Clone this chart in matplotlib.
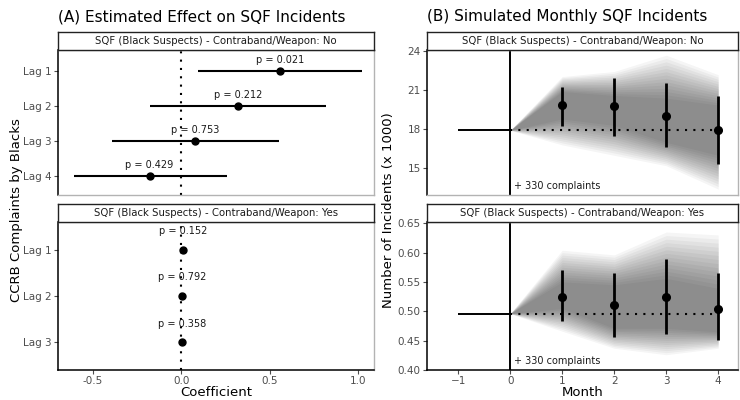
import matplotlib
matplotlib.use("Agg")
import matplotlib.pyplot as plt
import numpy as np

# ---------------- data ----------------
lags_no = ["Lag 1", "Lag 2", "Lag 3", "Lag 4"]
coef_no = [0.557, 0.32, 0.08, -0.18]
lo_no = [0.095, -0.18, -0.39, -0.61]
hi_no = [1.02, 0.82, 0.55, 0.26]
p_no = ["p = 0.021", "p = 0.212", "p = 0.753", "p = 0.429"]

lags_yes = ["Lag 1", "Lag 2", "Lag 3"]
coef_yes = [0.010, 0.002, 0.005]
lo_yes = [0.004, -0.004, -0.001]
hi_yes = [0.016, 0.008, 0.011]
p_yes = ["p = 0.152", "p = 0.792", "p = 0.358"]

months = [0, 1, 2, 3, 4]
sim_no_base = 17.93
sim_no_est = [19.86, 19.78, 19.0, 17.98]
sim_no_lo = [18.26, 17.46, 16.64, 15.34]
sim_no_hi = [21.29, 21.93, 21.54, 20.6]
# simulated-path cloud envelopes (months 0..4)
cloud_no_outer_lo = [17.93, 16.8, 16.0, 15.2, 13.4]
cloud_no_outer_hi = [17.93, 22.06, 22.45, 23.7, 22.2]
cloud_no_dense_lo = [17.93, 18.8, 18.3, 17.0, 16.0]
cloud_no_dense_hi = [17.93, 20.9, 20.6, 20.4, 19.86]

sim_yes_base = 0.496
sim_yes_est = [0.525, 0.510, 0.524, 0.5045]
sim_yes_lo = [0.483, 0.4566, 0.4605, 0.451]
sim_yes_hi = [0.571, 0.566, 0.589, 0.5645]
cloud_yes_outer_lo = [0.496, 0.466, 0.437, 0.426, 0.437]
cloud_yes_outer_hi = [0.496, 0.604, 0.596, 0.635, 0.630]
cloud_yes_dense_lo = [0.496, 0.505, 0.471, 0.471, 0.465]
cloud_yes_dense_hi = [0.496, 0.550, 0.545, 0.556, 0.539]

strip_no = "SQF (Black Suspects) - Contraband/Weapon: No"
strip_yes = "SQF (Black Suspects) - Contraband/Weapon: Yes"
annot = "+ 330 complaints"

# ---------------- figure ----------------
W, H = 740, 400
fig = plt.figure(figsize=(W / 100, H / 100), dpi=100)
plt.rcParams['font.family'] = ['DejaVu Sans']

def fr(x0, y0, x1, y1):
    return [x0 / W, 1 - y1 / H, (x1 - x0) / W, (y1 - y0) / H]

TICKC = "#4d4d4d"
BORDER = "#b3b3b3"

def style(ax, xlabels=True):
    for s in ["top", "right"]:
        ax.spines[s].set_color(BORDER)
        ax.spines[s].set_linewidth(1.0)
    ax.spines["left"].set_color("black")
    ax.spines["left"].set_linewidth(1.1)
    if xlabels:
        ax.spines["bottom"].set_color("black")
        ax.spines["bottom"].set_linewidth(1.1)
    else:
        ax.spines["bottom"].set_color(BORDER)
        ax.spines["bottom"].set_linewidth(1.0)
    ax.tick_params(axis="both", colors=TICKC, labelsize=7.5, length=3, width=0.8,
                   labelcolor=TICKC, pad=1.5)
    if not xlabels:
        ax.tick_params(axis="x", bottom=False, labelbottom=False)

def strip(rect, text):
    sa = fig.add_axes(rect)
    sa.set_xticks([]); sa.set_yticks([])
    for s in sa.spines.values():
        s.set_color("#222222"); s.set_linewidth(1.0)
    sa.text(0.5, 0.5, text, ha="center", va="center", fontsize=7.3, color="#1a1a1a",
            transform=sa.transAxes)

LX0, LX1 = 58, 374
RX0, RX1 = 427, 738
TY0, TY1 = 50, 195
BY0, BY1 = 222, 370

# ---- left top ----
ax = fig.add_axes(fr(LX0, TY0, LX1, TY1))
ypos = np.arange(1, len(lags_no) + 1)
ax.axvline(0, color="black", ls=(0, (1, 3)), lw=1.5)
ax.hlines(ypos, lo_no, hi_no, color="black", lw=1.5)
ax.plot(coef_no, ypos, "o", color="black", ms=5)
for x, y, t in zip(coef_no, ypos, p_no):
    ax.text(x, y - 0.3, t, ha="center", va="center", fontsize=7, color="#1a1a1a")
ax.set_yticks(ypos); ax.set_yticklabels(lags_no)
ax.set_ylim(4.55, 0.4)
ax.set_xlim(-0.698, 1.09)
ax.set_xticks([-0.5, 0, 0.5, 1.0])
style(ax, xlabels=False)
strip(fr(LX0, 32, LX1, TY0), strip_no)

# ---- left bottom ----
ax = fig.add_axes(fr(LX0, BY0, LX1, BY1))
ypos = np.arange(1, len(lags_yes) + 1)
ax.axvline(0, color="black", ls=(0, (1, 3)), lw=1.5)
ax.hlines(ypos, lo_yes, hi_yes, color="black", lw=1.5)
ax.plot(coef_yes, ypos, "o", color="black", ms=5)
for x, y, t in zip(coef_yes, ypos, p_yes):
    ax.text(x, y - 0.4, t, ha="center", va="center", fontsize=7, color="#1a1a1a")
ax.set_yticks(ypos); ax.set_yticklabels(lags_yes)
ax.set_ylim(3.6, 0.4)
ax.set_xlim(-0.698, 1.09)
ax.set_xticks([-0.5, 0, 0.5, 1.0])
ax.set_xticklabels(["-0.5", "0.0", "0.5", "1.0"])
style(ax, xlabels=True)
ax.set_xlabel("Coefficient", fontsize=9.5, labelpad=0)
strip(fr(LX0, 204, LX1, BY0), strip_yes)

# ---- right panels ----
def sim_panel(y0, y1, base, est, lo, hi, olo, ohi, dlo, dhi, ylim, yticks, yticklabels, xlabels):
    ax = fig.add_axes(fr(RX0, y0, RX1, y1))
    m = np.array(months)
    olo, ohi, dlo, dhi = map(np.asarray, (olo, ohi, dlo, dhi))
    # cloud of simulated paths drawn as a stack of translucent bands
    nlayer = 14
    for t in np.linspace(0, 1, nlayer):
        ax.fill_between(m, olo + t * (dlo - olo), ohi + t * (dhi - ohi),
                        color="black", alpha=0.04, lw=0)
    ax.hlines(base, -1, 0, color="black", lw=1.4)
    ax.axvline(0, color="black", lw=1.4)
    ax.hlines(base, 0, 4, color="black", lw=1.5, linestyles=(0, (1, 3)))
    ax.vlines(months[1:], lo, hi, color="black", lw=2)
    ax.plot(months[1:], est, "o", color="black", ms=5.5)
    ax.text(0.08, ylim[0] + 0.025 * (ylim[1] - ylim[0]), annot, ha="left", va="bottom",
            fontsize=7, color="#1a1a1a")
    ax.set_xlim(-1.6, 4.38)
    ax.set_xticks([-1, 0, 1, 2, 3, 4])
    ax.set_ylim(*ylim)
    ax.set_yticks(yticks)
    ax.set_yticklabels(yticklabels)
    style(ax, xlabels=xlabels)
    return ax

sim_panel(TY0, TY1, sim_no_base, sim_no_est, sim_no_lo, sim_no_hi,
          cloud_no_outer_lo, cloud_no_outer_hi, cloud_no_dense_lo, cloud_no_dense_hi,
          (12.95, 24.1), [15, 18, 21, 24], ["15", "18", "21", "24"], False)
strip(fr(RX0, 32, RX1, TY0), strip_no)
ax = sim_panel(BY0, BY1, sim_yes_base, sim_yes_est, sim_yes_lo, sim_yes_hi,
               cloud_yes_outer_lo, cloud_yes_outer_hi, cloud_yes_dense_lo, cloud_yes_dense_hi,
               (0.40, 0.652), [0.40, 0.45, 0.50, 0.55, 0.60, 0.65],
               ["0.40", "0.45", "0.50", "0.55", "0.60", "0.65"], True)
ax.set_xlabel("Month", fontsize=9.5, labelpad=0)
strip(fr(RX0, 204, RX1, BY0), strip_yes)

# titles and shared labels
fig.text(LX0 / W, 1 - 17 / H, "(A) Estimated Effect on SQF Incidents", ha="left", va="center",
         fontsize=11, color="black")
fig.text(RX0 / W, 1 - 17 / H, "(B) Simulated Monthly SQF Incidents", ha="left", va="center",
         fontsize=11, color="black")
fig.text(17 / W, 1 - 210 / H, "CCRB Complaints by Blacks", rotation=90, ha="center",
         va="center", fontsize=9.5)
fig.text(389 / W, 1 - 210 / H, "Number of Incidents (x 1000)", rotation=90, ha="center",
         va="center", fontsize=9.5)

fig.savefig("out.png", dpi=100, facecolor="white")
